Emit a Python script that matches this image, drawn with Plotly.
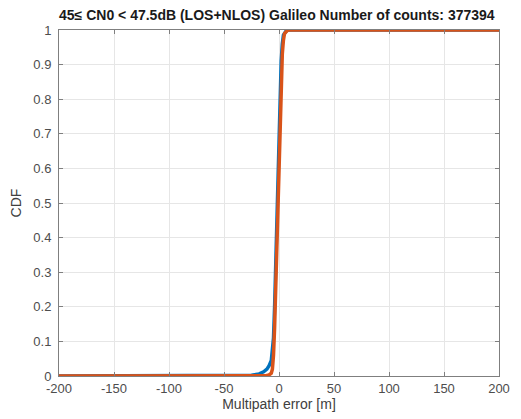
import plotly.graph_objects as go

# CDF of multipath error
blue_x = [-200, -40, -25, -18, -14, -11, -9, -7, -6, -5, -4, -3, -2, -1, 0, 1, 2, 3, 4, 7, 200]
blue_y = [0, 0, 0.002, 0.006, 0.012, 0.02, 0.03, 0.045, 0.07, 0.11, 0.2, 0.33, 0.48, 0.61, 0.73, 0.83, 0.91, 0.96, 0.985, 1, 1]

orange_x = [-200, -20, -12, -9, -7, -6, -5, -4, -3, -2, -1, 0, 1, 2, 3, 4, 5, 8, 200]
orange_y = [0, 0, 0.001, 0.003, 0.008, 0.02, 0.06, 0.14, 0.26, 0.4, 0.54, 0.66, 0.77, 0.86, 0.93, 0.97, 0.99, 1, 1]

x_ticks = [-200, -150, -100, -50, 0, 50, 100, 150, 200]
x_labels = ["-200", "-150", "-100", "-50", "0", "50", "100", "150", "200"]
y_ticks = [0, 0.1, 0.2, 0.3, 0.4, 0.5, 0.6, 0.7, 0.8, 0.9, 1]
y_labels = ["0", "0.1", "0.2", "0.3", "0.4", "0.5", "0.6", "0.7", "0.8", "0.9", "1"]

fig = go.Figure()
fig.add_trace(go.Scatter(x=blue_x, y=blue_y, mode="lines",
                         line=dict(color="#0072BD", width=3.5), showlegend=False))
fig.add_trace(go.Scatter(x=orange_x, y=orange_y, mode="lines",
                         line=dict(color="#D95319", width=3.5), showlegend=False))

axis_common = dict(
    showline=True, linecolor="#7f7f7f", linewidth=1, mirror="ticks",
    showgrid=True, gridcolor="#e6e6e6", gridwidth=1,
    ticks="inside", ticklen=4, tickcolor="#7f7f7f",
    zeroline=False, automargin=False,
    tickfont=dict(family="Arial", size=13, color="#4d4d4d"),
)

# the page body adds an 8px offset, so margins are shifted to compensate
fig.update_layout(
    width=521, height=419,
    paper_bgcolor="white", plot_bgcolor="white",
    margin=dict(l=51, r=30, t=22, b=51),
    title=dict(text="<b>45\u2264 CN0 < 47.5dB (LOS+NLOS) Galileo Number of counts: 377394</b>",
               x=0.516, xanchor="center", y=0.983, yanchor="middle",
               automargin=False,
               font=dict(family="Arial", size=14, color="#1a1a1a")),
    xaxis=dict(range=[-200, 200], tickvals=x_ticks, ticktext=x_labels,
               ticklabelstandoff=0,
               title=dict(text="Multipath error [m]", standoff=4,
                          font=dict(family="Arial", size=14, color="#404040")),
               **axis_common),
    yaxis=dict(range=[0, 1], tickvals=y_ticks, ticktext=y_labels,
               ticklabelstandoff=4,
               title=dict(text="CDF", standoff=8,
                          font=dict(family="Arial", size=14, color="#404040")),
               **axis_common),
)

fig.write_html("out.html")
